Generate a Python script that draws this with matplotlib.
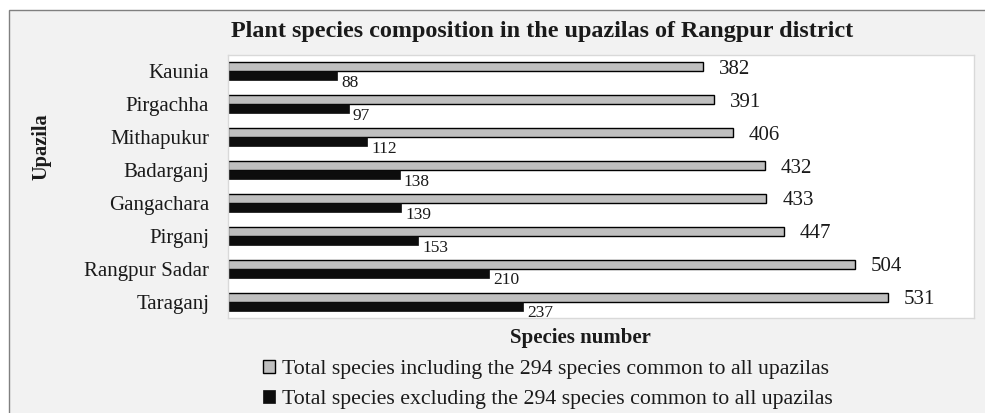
import matplotlib
matplotlib.use("Agg")
from matplotlib import pyplot as plt
from matplotlib.patches import Rectangle

plt.rcParams['font.family'] = ['Liberation Serif', 'DejaVu Serif']

# data, top to bottom as in the chart
upazilas = ["Kaunia", "Pirgachha", "Mithapukur", "Badarganj",
            "Gangachara", "Pirganj", "Rangpur Sadar", "Taraganj"]
total_incl = [382, 391, 406, 432, 433, 447, 504, 531]
total_excl = [88, 97, 112, 138, 139, 153, 210, 237]
legend_labels = ["Total species including the 294 species common to all upazilas",
                 "Total species excluding the 294 species common to all upazilas"]

W, H = 985, 413  # pixel size of the output

fig = plt.figure(figsize=(W / 100, H / 100), dpi=100)
fig.patch.set_facecolor("white")

# outer chart frame (light gray with a darker border on top/left)
frame = Rectangle((9 / W, -0.1), 1.1, 1 - 10 / H + 0.1, transform=fig.transFigure,
                  facecolor="#f2f2f2", edgecolor="#808080", linewidth=1.0, zorder=-5)
fig.patches.append(frame)

ax = fig.add_axes([228 / W, 1 - 318 / H, (974 - 228) / W, (318 - 55) / H])
ax.set_zorder(2)
ax.set_facecolor("white")

n = len(upazilas)
pos = list(range(n))  # 0 = top row after inverting
bh = 0.274
gray_y = [p - bh / 2 for p in pos]
black_y = [p + bh / 2 for p in pos]

b1 = ax.barh(gray_y, total_incl, height=bh, color="#bfbfbf", edgecolor="black",
             linewidth=1.0, label=legend_labels[0], zorder=2)
b2 = ax.barh(black_y, total_excl, height=bh, color="#0d0d0d", edgecolor="#0d0d0d",
             linewidth=0.5, label=legend_labels[1], zorder=2)

for y, v in zip(gray_y, total_incl):
    ax.annotate(str(v), (v, y), xytext=(11.5, -1.8), textcoords="offset points",
                ha="left", va="center", fontsize=15, color="#1a1a1a")
for y, v in zip(black_y, total_excl):
    ax.annotate(str(v), (v, y), xytext=(3, -5.2), textcoords="offset points",
                ha="left", va="center", fontsize=12.5, color="#1a1a1a")

ax.set_xlim(0, 600)
ax.set_ylim(n - 0.5, -0.5)
ax.set_yticks(pos)
ax.set_yticklabels(upazilas, fontsize=15, color="#1a1a1a")
ax.tick_params(axis="y", length=0, pad=13.5)
ax.set_xticks([])
for s in ax.spines.values():
    s.set_color("#d9d9d9")
    s.set_linewidth(1.0)

fig.text(542 / W, 1 - 31 / H, "Plant species composition in the upazilas of Rangpur district",
         ha="center", va="center", fontsize=17.4, fontweight="bold", color="#1a1a1a")
fig.text(580 / W, 1 - 338 / H, "Species number", ha="center", va="center",
         fontsize=15, fontweight="bold", color="#1a1a1a")
fig.text(42 / W, 1 - 147 / H, "Upazila", ha="center", va="center", rotation=90,
         fontsize=14.7, fontweight="bold", color="#1a1a1a")

fig.legend(handles=[b1, b2], labels=legend_labels, loc="upper left",
           bbox_to_anchor=(263 / W, 1 - 360 / H), frameon=False, fontsize=15.7,
           handlelength=0.55, handleheight=0.55, handletextpad=0.3,
           labelspacing=0.48, borderpad=0, borderaxespad=0, labelcolor="#1a1a1a")

fig.savefig("out.png", dpi=100, facecolor=fig.get_facecolor())
